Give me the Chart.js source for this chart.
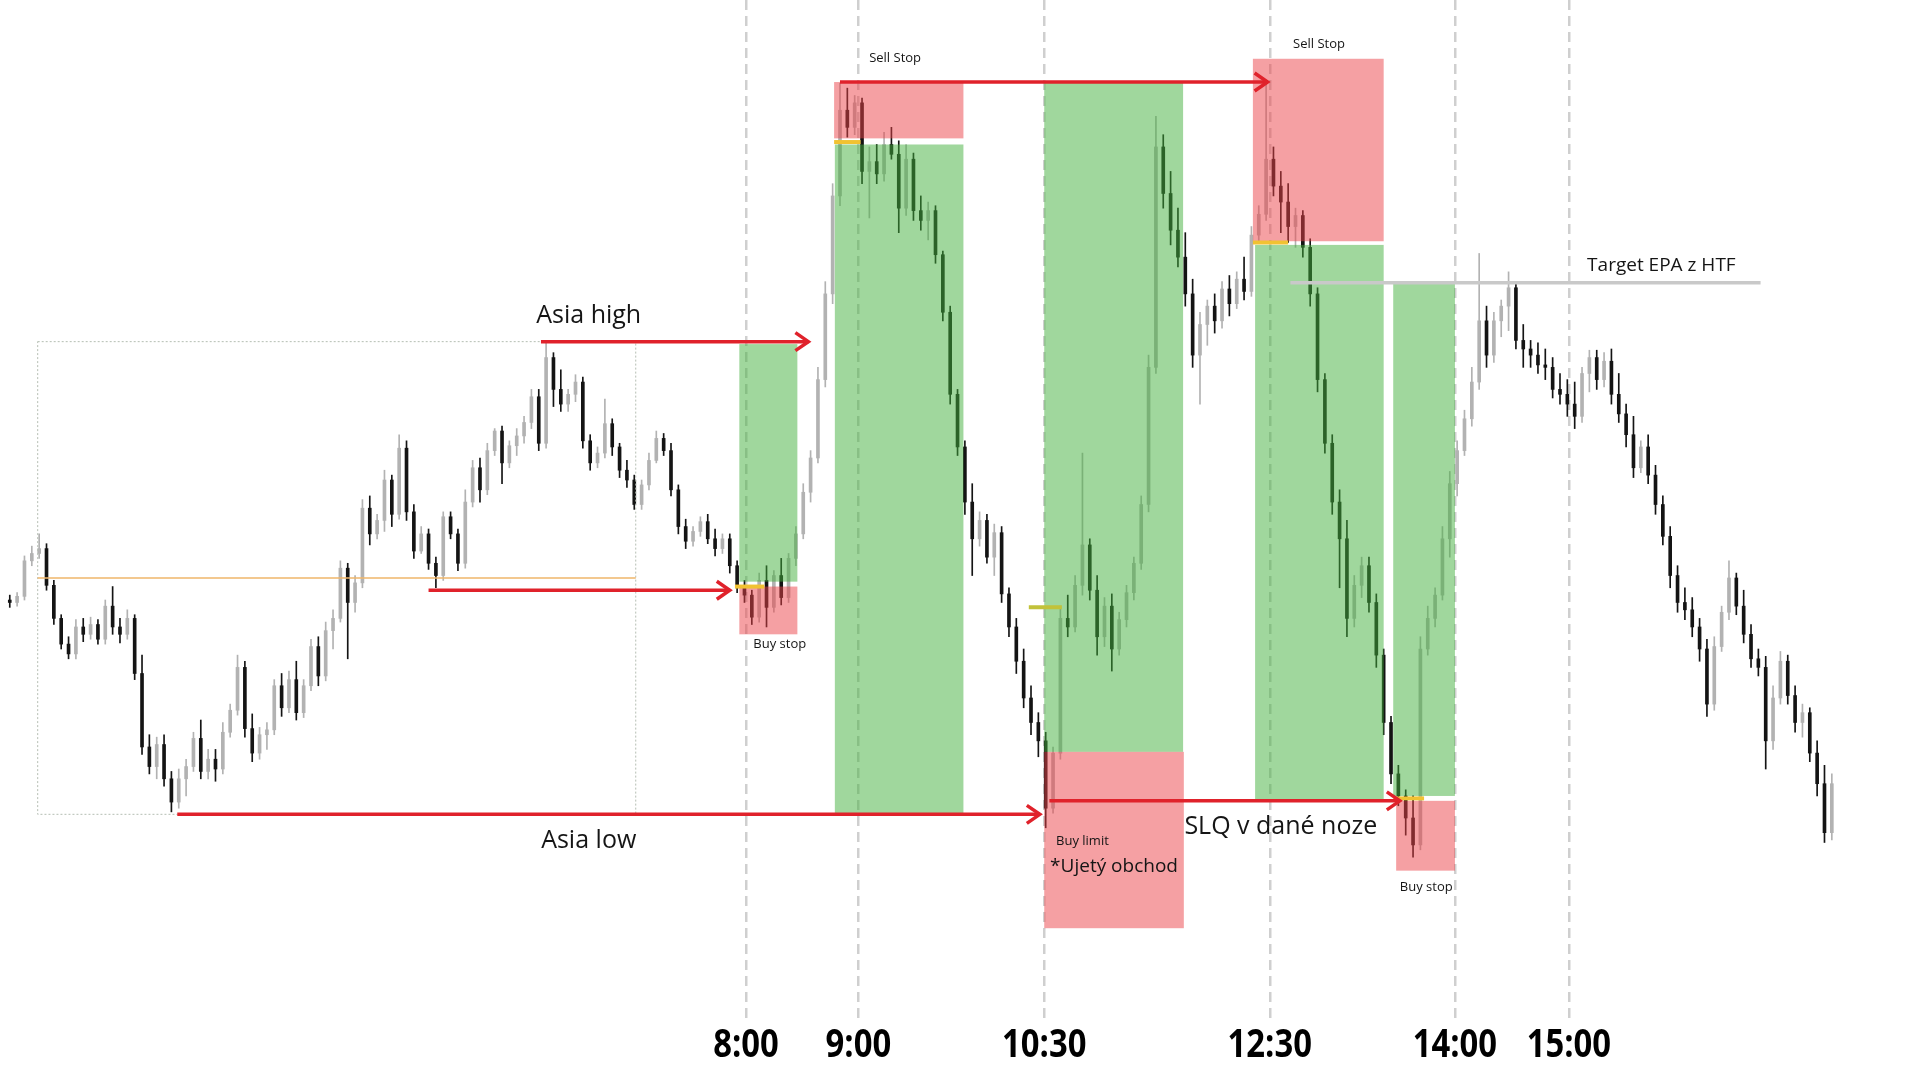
<!DOCTYPE html>
<html>
<head>
<meta charset="utf-8">
<title>Asia range - trades</title>
<script src="https://cdn.jsdelivr.net/npm/chart.js@4.4.1/dist/chart.umd.min.js"></script>
<style>
  html, body { margin: 0; padding: 0; background: #fff; }
  #wrap { width: 1920px; height: 1080px; }
</style>
</head>
<body>
<div id="wrap"><canvas id="myChart"></canvas></div>
<script>
// candles (price points), one row = 20 candles
var opens = [
  510,508,513,542,548,552,522,495,474,466,488,482,490,478,505,488,482,495,450,390,
  374,392,364,345,364,374,397,370,380,372,402,420,455,405,385,400,404,440,422,445,
  418,440,472,448,485,495,536,508,524,585,564,575,608,580,634,582,550,564,540,530,
  578,564,540,590,618,600,632,648,622,636,644,655,676,638,708,682,670,678,688,640,
  622,630,654,635,616,608,588,604,624,642,632,600,570,558,566,574,560,552,560,538,
  520,514,496,526,504,530,512,544,564,598,626,690,760,840,910,896,916,860,868,858,
  882,874,830,870,828,820,828,792,745,678,635,590,560,575,545,565,515,488,460,430,
  410,395,340,385,495,488,522,555,518,480,505,470,494,516,540,588,700,880,842,812,
  790,760,710,735,750,738,764,752,772,762,808,825,870,848,835,815,824,798,760,690,
  638,590,560,495,522,538,508,465,410,368,350,332,310,470,495,514,560,605,632,658,
  688,738,710,738,750,765,722,715,710,702,700,682,678,670,660,695,708,690,705,678,
  662,645,618,635,612,588,562,530,508,502,488,470,425,472,500,528,505,482,462,455,
  395,430,460,432,410,418,385,360,320
];
var highs = [
  514,516,546,554,564,556,526,498,480,494,495,496,494,510,521,495,502,498,465,400,
  398,400,370,372,380,402,412,388,388,410,425,465,460,417,406,410,445,450,452,460,
  445,478,480,492,502,542,540,530,592,595,580,616,612,645,640,588,570,568,545,582,
  582,568,600,624,626,638,650,652,640,650,660,682,682,721,712,698,682,694,692,645,
  635,674,658,638,624,612,608,630,648,646,638,604,576,570,578,580,568,564,564,542,
  526,518,532,538,534,544,548,570,605,632,700,770,850,932,928,922,920,880,882,892,
  896,885,882,875,840,835,832,795,750,682,640,605,582,580,572,570,520,495,470,440,
  418,402,390,505,514,530,630,560,530,512,515,500,522,545,595,710,905,890,860,830,
  810,772,745,755,760,770,775,778,790,815,832,932,880,860,850,830,828,805,765,695,
  645,600,575,530,545,545,515,470,415,375,355,350,480,505,520,570,615,640,665,700,
  793,750,745,755,778,770,735,722,720,715,708,695,690,688,700,714,714,712,715,695,
  670,660,640,645,620,595,570,538,520,512,495,478,480,505,542,532,518,490,470,464,
  440,468,465,440,425,422,395,375,368
];
var lows = [
  504,505,510,538,544,518,490,470,462,462,476,478,474,474,482,475,478,445,384,368,
  364,358,337,340,350,370,364,364,362,368,398,416,398,378,380,388,400,415,418,412,
  414,436,440,444,470,492,462,500,520,555,560,566,570,576,575,544,548,535,520,526,
  560,534,536,586,590,596,628,605,618,628,638,650,632,634,668,664,664,672,634,616,
  618,626,628,610,602,584,584,600,622,628,595,564,552,554,562,556,546,548,532,516,
  508,490,492,488,500,506,508,538,560,590,622,684,752,832,888,890,850,822,850,852,
  870,810,824,820,812,804,785,738,670,628,580,530,554,540,530,508,480,450,422,400,
  382,324,336,380,480,484,514,510,465,472,452,465,488,510,535,582,695,830,800,782,
  750,700,670,718,728,732,742,748,755,758,802,820,840,810,802,798,790,750,680,630,
  580,520,480,488,512,500,455,400,360,342,318,300,306,465,488,510,545,595,628,652,
  682,700,704,725,730,715,700,700,695,690,675,670,660,650,655,680,682,684,670,655,
  635,610,614,605,580,555,520,500,494,480,460,415,420,468,494,498,475,455,448,372,
  388,425,425,402,398,378,350,312,314
];
var closes = [
  508,513,542,548,552,522,495,474,466,488,482,490,478,505,488,482,495,450,390,374,
  392,364,345,364,374,397,370,380,372,402,420,455,405,385,400,404,440,422,445,418,
  440,472,448,485,495,536,508,524,585,564,575,608,580,634,582,550,564,540,530,578,
  564,540,590,618,600,632,648,622,636,644,655,676,638,708,682,670,678,688,640,622,
  630,654,635,616,608,588,604,624,642,632,600,570,558,566,574,560,552,560,538,520,
  514,496,526,504,530,512,544,564,598,626,690,760,840,910,896,916,860,868,858,882,
  874,830,870,828,820,828,792,745,678,635,590,560,575,545,565,515,488,460,430,410,
  395,340,385,495,488,522,555,518,480,505,470,494,516,540,588,700,880,842,812,790,
  760,710,735,750,738,764,752,772,762,808,825,870,848,835,815,824,798,760,690,638,
  590,560,495,522,538,508,465,410,368,350,332,310,470,495,514,560,605,632,658,688,
  738,710,738,750,765,722,715,710,702,700,682,678,670,660,695,708,690,705,678,662,
  645,618,635,612,588,562,530,508,502,488,470,425,472,500,528,505,482,462,455,395,
  430,460,432,410,418,385,360,320,360
];

// session times on the candle axis
var timeIdx = [100.2, 115.5, 140.8, 171.5, 196.7, 212.2];
var timeLabels = ['8:00', '9:00', '10:30', '12:30', '14:00', '15:00'];

// asia range: [from, to, high, low] and its middle
var asiaRange = [3.8, 85.2, 721, 335];
var asiaMid = 528;

// trades: [from, to, top, bottom]
var profitZones = [
  [99.3, 107.2, 719, 525],
  [112.3, 129.8, 882, 335],
  [140.8, 159.7, 933, 386],
  [169.5, 187, 800, 347],
  [188.3, 196.7, 769, 350]
];
var riskZones = [
  [99.3, 107.2, 521, 482],
  [112.2, 129.8, 933, 887],
  [140.8, 159.8, 386, 242],
  [169.2, 187, 952, 803],
  [188.7, 196.7, 346, 289]
];
// entry levels: [from, to, price]
var entries = [
  [98.7, 102.7, 521],
  [112.2, 115.8, 884],
  [138.7, 143.2, 504],
  [169.2, 174, 802],
  [188.3, 192.5, 348]
];
// liquidity arrows: [from, to, price]
var arrows = [
  [72.3, 108.7, 721],
  [57, 98, 518],
  [22.8, 140.2, 335],
  [113, 171.2, 933],
  [141.5, 189.2, 346]
];
var target = [174.3, 238.3, 769];

var notes = [
  ['Asia high', 78.8, 742, 'big'],
  ['Asia low', 78.8, 313, 'big'],
  ['SLQ v dané noze', 173, 325, 'big'],
  ['Target EPA z HTF', 224.8, 783, 'mid'],
  ['*Ujetý obchod', 150.3, 292, 'mid'],
  ['Sell Stop', 120.5, 952, 'small'],
  ['Sell Stop', 178.2, 964, 'small'],
  ['Buy stop', 104.8, 474, 'small'],
  ['Buy limit', 146, 313, 'small'],
  ['Buy stop', 192.8, 275, 'small']
];

var wickData = closes.map(function(c, i) { return {x: i, y: [lows[i], highs[i]]}; });
var bodyData = closes.map(function(c, i) { return {x: i, y: [opens[i], c]}; });
var candleColors = closes.map(function(c, i) { return c < opens[i] ? '#141414' : '#b2b2b2'; });

var overlay = {
  id: 'overlay',
  afterDatasetsDraw: function(chart) {
    var ctx = chart.ctx, xs = chart.scales.x, ys = chart.scales.y;
    function X(v) { return xs.getPixelForValue(v); }
    function Y(v) { return ys.getPixelForValue(v); }
    function hline(x0, x1, y) { ctx.beginPath(); ctx.moveTo(X(x0), Y(y)); ctx.lineTo(X(x1), Y(y)); ctx.stroke(); }
    ctx.save();

    // asia box
    ctx.strokeStyle = '#b5beb3';
    ctx.lineWidth = 1;
    ctx.setLineDash([2, 2]);
    ctx.strokeRect(X(asiaRange[0]), Y(asiaRange[2]), X(asiaRange[1]) - X(asiaRange[0]), Y(asiaRange[3]) - Y(asiaRange[2]));
    ctx.setLineDash([]);
    ctx.strokeStyle = '#efb66a';
    ctx.lineWidth = 1.5;
    hline(asiaRange[0], asiaRange[1], asiaMid);

    // trade boxes
    profitZones.forEach(function(z) {
      ctx.fillStyle = 'rgba(65,175,59,0.5)';
      ctx.fillRect(X(z[0]), Y(z[2]), X(z[1]) - X(z[0]), Y(z[3]) - Y(z[2]));
    });
    riskZones.forEach(function(z) {
      ctx.fillStyle = 'rgba(235,65,71,0.5)';
      ctx.fillRect(X(z[0]), Y(z[2]), X(z[1]) - X(z[0]), Y(z[3]) - Y(z[2]));
    });

    ctx.lineWidth = 4;
    entries.forEach(function(e, k) {
      ctx.strokeStyle = k == 2 ? '#c2c23a' : '#f1c232';
      hline(e[0], e[1], e[2]);
    });

    ctx.strokeStyle = '#c9c9c9';
    ctx.lineWidth = 3.5;
    hline(target[0], target[1], target[2]);

    // arrows
    ctx.strokeStyle = '#e0222b';
    ctx.lineWidth = 3.5;
    arrows.forEach(function(a) {
      hline(a[0], a[1], a[2]);
      var x1 = X(a[1]), y = Y(a[2]);
      ctx.beginPath();
      ctx.moveTo(x1 - 13, y - 9);
      ctx.lineTo(x1, y);
      ctx.lineTo(x1 - 13, y + 9);
      ctx.stroke();
    });

    // labels
    var sizes = {big: 25, mid: 19, small: 13};
    ctx.fillStyle = '#151515';
    ctx.textAlign = 'center';
    ctx.textBaseline = 'middle';
    notes.forEach(function(n) {
      ctx.font = sizes[n[3]] + 'px "Open Sans"';
      ctx.fillText(n[0], X(n[1]), Y(n[2]));
    });
    ctx.restore();
  },
  afterDraw: function(chart) {
    // time labels under the session lines, narrow bold
    var ctx = chart.ctx, xs = chart.scales.x;
    ctx.save();
    ctx.fillStyle = '#000';
    ctx.font = 'bold 40px "Open Sans"';
    ctx.textAlign = 'center';
    ctx.textBaseline = 'middle';
    xs.ticks.forEach(function(t, i) {
      ctx.save();
      ctx.translate(xs.getPixelForValue(t.value), xs.top + 24);
      ctx.scale(0.82, 1);
      ctx.fillText(timeLabels[i], 0, 0);
      ctx.restore();
    });
    ctx.restore();
  }
};

var ctx = document.getElementById('myChart');

var myChart = new Chart(ctx, {
  type: 'bar',
  data: {
    datasets: [
      {
        label: 'body',
        data: bodyData,
        backgroundColor: candleColors,
        barThickness: 3,
        minBarLength: 1,
        grouped: false,
        borderWidth: 0
      },
      {
        label: 'wick',
        data: wickData,
        backgroundColor: candleColors,
        barThickness: 1,
        grouped: false,
        borderWidth: 0
      }
    ]
  },
  options: {
    responsive: true,
    maintainAspectRatio: false,
    animation: false,
    layout: { padding: 0 },
    plugins: {
      legend: { display: false },
      tooltip: { enabled: false }
    },
    scales: {
      x: {
        type: 'linear',
        min: -1.33,
        max: 260,
        offset: false,
        afterFit: function(scale) { scale.height = 58; },
        afterBuildTicks: function(scale) {
          scale.ticks = timeIdx.map(function(v) { return {value: v}; });
        },
        ticks: {
          display: false,
          autoSkip: false,
          maxRotation: 0,
          callback: function(v, i) { return timeLabels[i]; }
        },
        grid: {
          offset: false,
          drawTicks: false,
          color: '#cfcfcf',
          lineWidth: 2.5
        },
        border: { display: false, dash: [10, 6] }
      },
      y: {
        display: false,
        min: 165.4,
        max: 1000
      }
    }
  },
  plugins: [overlay]
});
</script>
</body>
</html>
